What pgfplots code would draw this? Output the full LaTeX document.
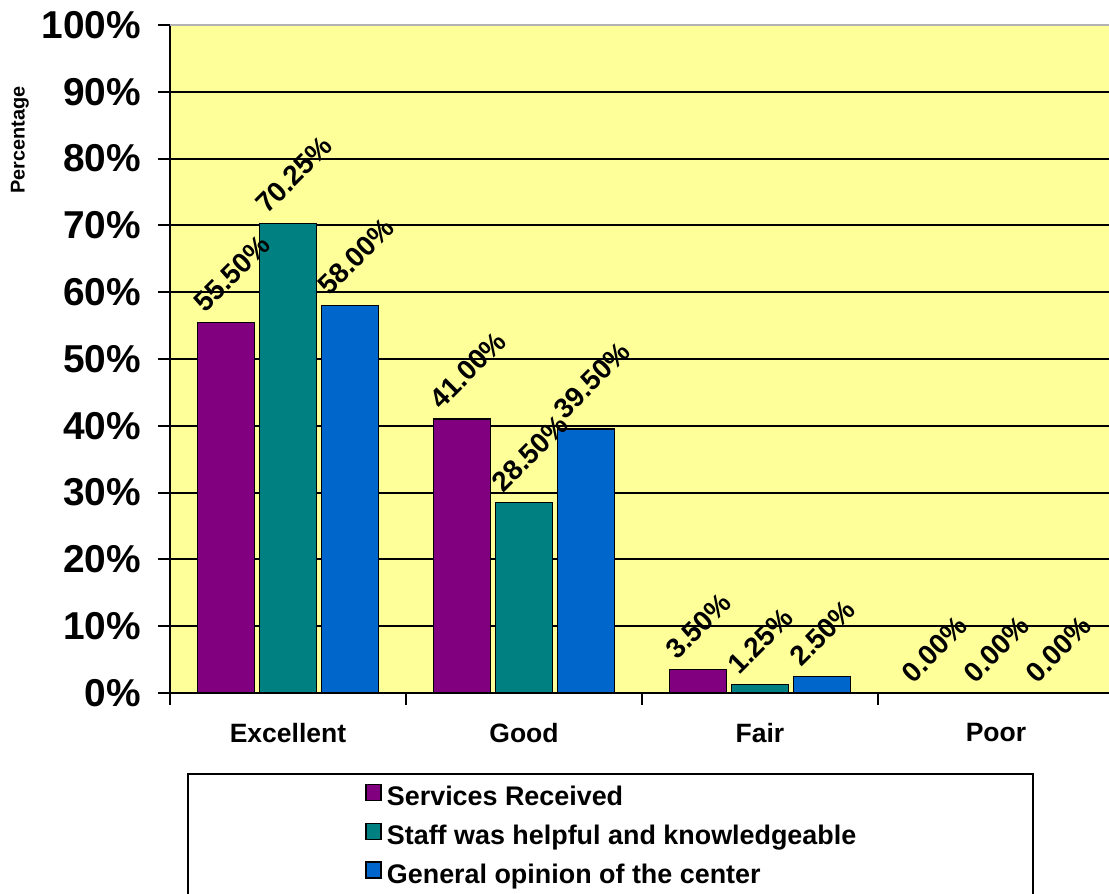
\documentclass[border=0pt]{standalone}
\usepackage{pgfplots}
\pgfplotsset{compat=1.18}
\usepackage{fontspec}
\setmainfont{Liberation Sans}
\definecolor{bgyellow}{HTML}{FFFF99}
\definecolor{svcpurple}{HTML}{800080}
\definecolor{staffteal}{HTML}{008080}
\definecolor{genblue}{HTML}{0066CC}
\begin{document}
\begin{tikzpicture}
\begin{axis}[
  at={(85bp,100.5bp)}, anchor=south west,
  scale only axis, width=472bp, height=334bp,
  xmin=-0.5, xmax=3.5, ymin=0, ymax=100,
  axis background/.style={fill=bgyellow},
  axis x line*=bottom, axis y line*=left,
  axis line style={black, line width=1bp},
  ytick={0,10,20,30,40,50,60,70,80,90,100},
  yticklabels={0\%,10\%,20\%,30\%,40\%,50\%,60\%,70\%,80\%,90\%,100\%},
  ymajorgrids, grid style={black, line width=1bp},
  xtick={-0.5,0.5,1.5,2.5,3.5},
  x tick label as interval,
  xticklabels={Excellent,Good,Fair,Poor},
  tick align=outside, major tick length=6bp,
  tick style={black, line width=1bp},
  yticklabel style={font=\fontsize{19.5}{22}\selectfont\bfseries, xshift=-5bp},
  xticklabel style={font=\fontsize{13.3}{16}\selectfont\bfseries, yshift=-5.5bp},
  ylabel={Percentage},
  every axis y label/.style={at={(axis description cs:-0.1589,0.8278)}, rotate=90, anchor=center, font=\fontsize{10}{12}\selectfont\bfseries},
  /pgf/number format/assume math mode=true,
  ybar,
  bar width=0.2415,
  nodes near coords={\pgfmathprintnumber[fixed,fixed zerofill,precision=2]{\pgfplotspointmeta}\%},
  every node near coord/.append style={font=\fontsize{14}{16}\selectfont\bfseries, black, xshift=-14bp, yshift=7.5bp, rotate=45, anchor=west, inner sep=0pt},
  legend style={draw=none, fill=none, at={(axis description cs:0.2066,-0.1356)}, anchor=north west, inner sep=0pt, row sep=5.5bp,
    font=\fontsize{13.5}{16}\selectfont\bfseries,
    nodes={text height=10bp, text depth=3bp, inner ysep=0pt, inner xsep=0pt},
    /tikz/every odd column/.append style={column sep=2.5bp}},
  legend cell align=left,
  legend image code/.code={\draw[#1, draw=black, line width=0.75bp] (0bp,-1bp) rectangle (7.5bp,7bp);},
]
\addplot[fill=svcpurple, draw=black, line width=0.75bp, bar shift=-0.263] coordinates {(0,55.5) (1,41.0) (2,3.5) (3,0)};
\addplot[fill=staffteal, draw=black, line width=0.75bp, bar shift=0] coordinates {(0,70.25) (1,28.5) (2,1.25) (3,0)};
\addplot[fill=genblue, draw=black, line width=0.75bp, bar shift=0.263] coordinates {(0,58.0) (1,39.5) (2,2.5) (3,0)};
\legend{Services Received, Staff was helpful and knowledgeable, General opinion of the center}
\draw[gray!60, line width=1bp] (axis description cs:0,1) -- (axis description cs:1,1);
\end{axis}
\draw[black, line width=1bp] (94bp,60bp) rectangle (516.5bp,-10bp);
\pgfresetboundingbox
\path (0,0) rectangle (554.5bp,447bp);
\end{tikzpicture}
\end{document}
